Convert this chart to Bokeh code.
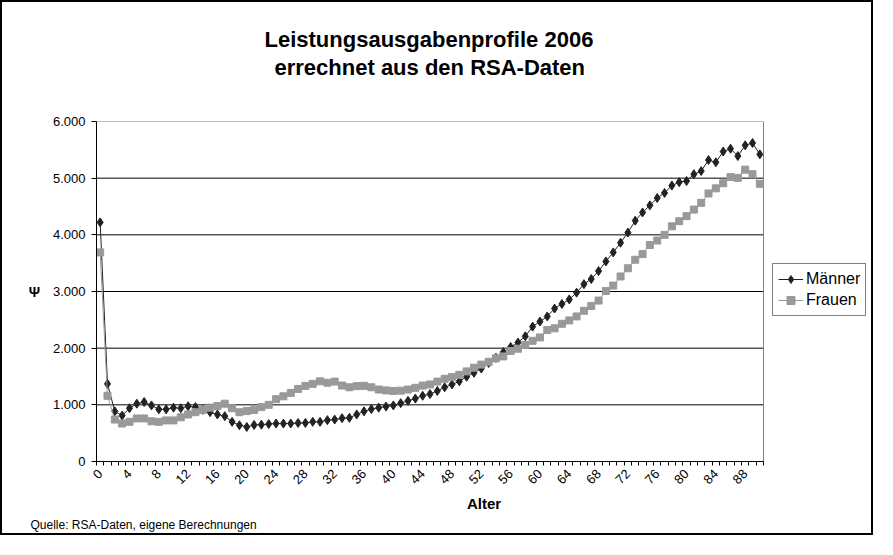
import math
from bokeh.plotting import figure
from bokeh.models import (Range1d, FixedTicker, Title, Legend, LegendItem, ColumnDataSource)
from bokeh.embed import file_html
from bokeh.resources import INLINE

# ---- data ----
ages = list(range(91))
maenner = [4220, 1370, 885, 810, 940, 1020, 1050, 990, 920, 920,
           950, 940, 975, 960, 910, 870, 830, 800, 700, 640,
           610, 645, 650, 660, 670, 670, 670, 680, 680, 700,
           700, 730, 740, 765, 770, 830, 885, 925, 950, 970,
           990, 1030, 1070, 1110, 1160, 1190, 1245, 1310, 1360, 1415,
           1495, 1565, 1640, 1740, 1830, 1930, 2020, 2100, 2210, 2380,
           2470, 2560, 2700, 2780, 2860, 2980, 3130, 3220, 3360, 3530,
           3690, 3860, 4040, 4250, 4395, 4520, 4650, 4740, 4870, 4930,
           4950, 5070, 5125, 5320, 5280, 5470, 5520, 5390, 5580, 5620, 5420]
frauen = [3690, 1160, 740, 670, 700, 760, 760, 710, 700, 725,
          725, 780, 830, 870, 910, 950, 980, 1020, 940, 870,
          890, 910, 960, 1000, 1100, 1150, 1210, 1280, 1335, 1370,
          1415, 1390, 1410, 1340, 1310, 1330, 1335, 1310, 1270, 1255,
          1245, 1250, 1270, 1300, 1340, 1360, 1410, 1460, 1490, 1530,
          1590, 1655, 1710, 1760, 1820, 1855, 1950, 1990, 2055, 2130,
          2190, 2320, 2350, 2430, 2490, 2560, 2660, 2745, 2840, 3010,
          3105, 3265, 3410, 3560, 3660, 3820, 3900, 4000, 4150, 4240,
          4330, 4445, 4565, 4730, 4820, 4910, 5020, 5005, 5150, 5070, 4900]
x_ticks = [0, 4, 8, 12, 16, 20, 24, 28, 32, 36, 40, 44, 48, 52, 56, 60, 64, 68, 72, 76, 80, 84, 88]
y_ticks = [0, 1000, 2000, 3000, 4000, 5000, 6000]
y_tick_labels = ["0", "1.000", "2.000", "3.000", "4.000", "5.000", "6.000"]
series_names = ["Männer", "Frauen"]
title_lines = ["Leistungsausgabenprofile 2006", "errechnet aus den RSA-Daten"]
x_title = "Alter"
y_title = "Ψ"
source_note = "Quelle: RSA-Daten, eigene Berechnungen"

FONT = "Liberation Sans"

# ---- layout constants (pixels) ----
W, H = 873, 535
LEFT, RIGHT_PAD, TOP, BOTTOM = 94, 4, 119, 76
PLOT_PX = 667                      # width of the plotting area (category axis)
FRAME_PX = W - LEFT - RIGHT_PAD    # frame extends to hold the legend at the right

x_lo = -0.5
x_hi_axis = len(ages) - 0.5
x_hi_frame = x_lo + (x_hi_axis - x_lo) * FRAME_PX / PLOT_PX
y_lo, y_hi = y_ticks[0], y_ticks[-1]

src = ColumnDataSource(dict(age=ages, m=maenner, f=frauen))

p = figure(width=W, height=H, output_backend="svg", toolbar_location=None,
           x_range=Range1d(x_lo, x_hi_frame), y_range=Range1d(y_lo, y_hi),
           min_border_left=LEFT, min_border_right=RIGHT_PAD,
           min_border_top=TOP, min_border_bottom=BOTTOM)
p.styles = {"border": "2px solid black"}
p.background_fill_color = "white"
p.border_fill_color = "white"
p.outline_line_color = None
p.xgrid.grid_line_color = None
p.ygrid.grid_line_color = None

# horizontal gridlines limited to the plotting area
inner = y_ticks[1:-1]
p.segment(x0=[x_lo] * len(inner), x1=[x_hi_axis] * len(inner), y0=inner, y1=inner,
          line_color="#000000", line_width=1)
# plot-area border (top and right, grey)
p.line(x=[x_lo, x_hi_axis, x_hi_axis], y=[y_hi, y_hi, y_lo], line_color="#808080", line_width=1)

# y axis
p.yaxis.ticker = FixedTicker(ticks=y_ticks)
p.yaxis.major_label_overrides = {t: l for t, l in zip(y_ticks, y_tick_labels)}
p.yaxis.axis_line_color = "black"
p.yaxis.major_tick_out = 5
p.yaxis.major_tick_in = 0
p.yaxis.minor_tick_line_color = None
p.yaxis.major_label_text_font = FONT
p.yaxis.major_label_text_font_size = "13px"
p.yaxis.major_label_text_color = "black"
p.yaxis.major_label_standoff = 6
p.yaxis.axis_label = y_title
p.yaxis.axis_label_orientation = "horizontal"
p.yaxis.axis_label_text_font = FONT
p.yaxis.axis_label_text_font_size = "14px"
p.yaxis.axis_label_text_font_style = "bold"
p.yaxis.axis_label_text_color = "black"
p.yaxis.axis_label_standoff = 10

# x axis (bounded to the category area)
minor = [a - 0.5 for a in ages] + [ages[-1] + 0.5]
p.xaxis.bounds = (x_lo, x_hi_axis)
p.xaxis.ticker = FixedTicker(ticks=x_ticks, minor_ticks=minor)
p.xaxis.major_tick_line_color = None
p.xaxis.minor_tick_out = 4
p.xaxis.minor_tick_in = 0
p.xaxis.minor_tick_line_color = "black"
p.xaxis.axis_line_color = "black"
p.xaxis.major_label_orientation = math.pi / 4
p.xaxis.major_label_text_font = FONT
p.xaxis.major_label_text_font_size = "13px"
p.xaxis.major_label_text_color = "black"
p.xaxis.major_label_standoff = 4
p.xaxis.axis_label = x_title
p.xaxis.axis_label_text_font = FONT
p.xaxis.axis_label_text_font_size = "15px"
p.xaxis.axis_label_text_font_style = "bold"
p.xaxis.axis_label_text_color = "black"
p.xaxis.axis_label_standoff = 4

# series
lm = p.line("age", "m", source=src, line_color="#222222", line_width=1)
sm = p.scatter("age", "m", source=src, marker="diamond", size=9, fill_color="#222222", line_color="#222222")
lf = p.line("age", "f", source=src, line_color="#999999", line_width=1)
sf = p.scatter("age", "f", source=src, marker="square", size=7, fill_color="#999999", line_color="#999999")

legend = Legend(items=[LegendItem(label=series_names[0], renderers=[lm, sm]),
                       LegendItem(label=series_names[1], renderers=[lf, sf])],
                location=(676, 145))
legend.label_text_font = FONT
legend.label_text_font_size = "16px"
legend.label_text_color = "black"
legend.border_line_color = "black"
legend.border_line_width = 1
legend.background_fill_color = "white"
legend.padding = 5
legend.spacing = 1
legend.glyph_width = 25
legend.glyph_height = 20
legend.label_height = 20
legend.label_standoff = 3
legend.margin = 0
p.add_layout(legend, "center")

# titles (left aligned with offsets so they centre over the plotting area)
spacer = Title(text=" ", text_font_size="26px")
p.add_layout(spacer, "above")
t2 = Title(text=title_lines[1], align="left", offset=178, text_font=FONT, text_font_size="22px",
           text_font_style="bold", text_color="black", standoff=0)
p.add_layout(t2, "above")
t1 = Title(text=title_lines[0], align="left", offset=168, text_font=FONT, text_font_size="22px",
           text_font_style="bold", text_color="black", standoff=1)
p.add_layout(t1, "above")

note = Title(text=source_note, align="left", text_font=FONT, text_font_size="12px",
             text_font_style="normal", text_color="black", offset=-66, standoff=0)
p.add_layout(note, "below")

open("out.html", "w").write(file_html(p, INLINE))
